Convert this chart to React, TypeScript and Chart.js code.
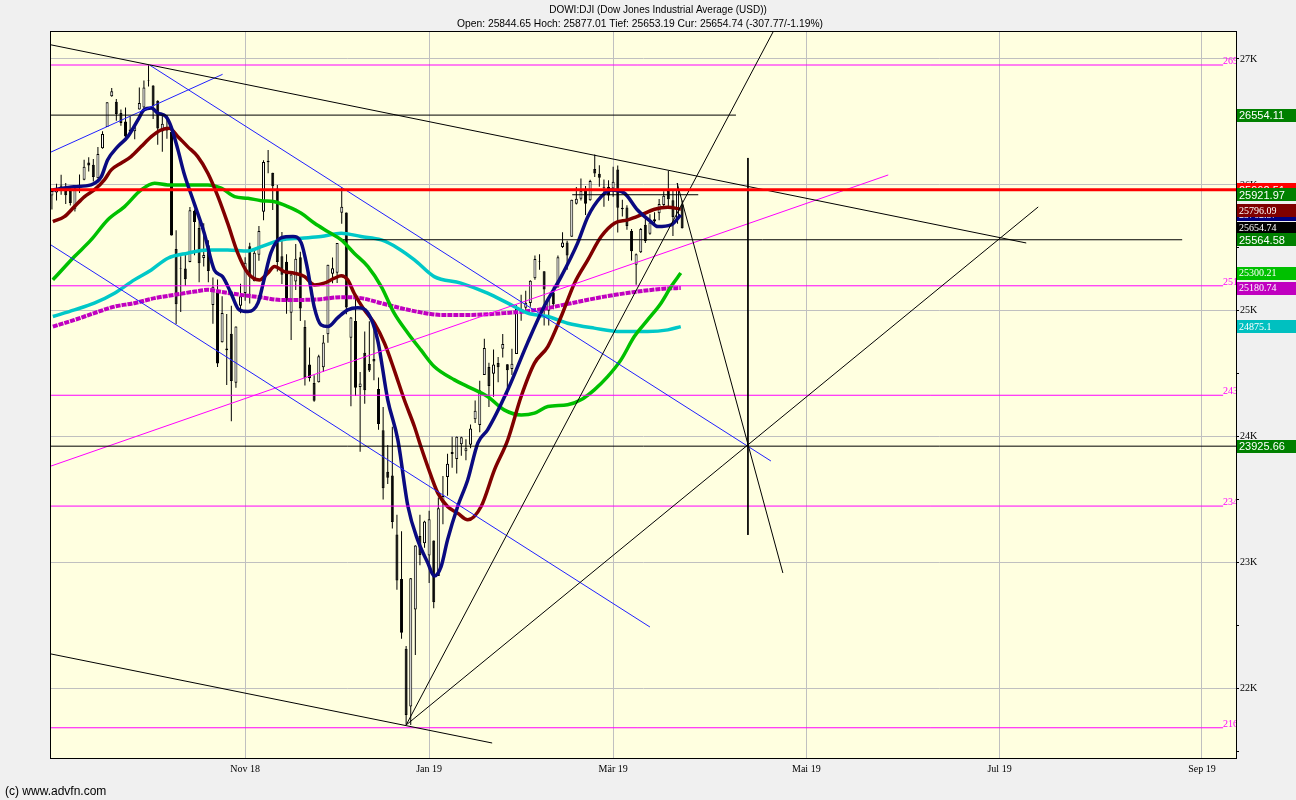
import React, { useEffect, useRef } from "react";
import { Chart, registerables } from "chart.js";

Chart.register(...registerables);

// ---- Candles: DJI daily, trading-day index 0 = 4 Sep 2018 ----
const candleOpen = [25916,25939,25985,25953,25951,25811,25986,26041,26178,26160,26053,26292,26460,26703,26661,26570,26504,26425,26427,26598,26614,26833,26789,26669,26424,26462,26422,25491,25337,25337,25387,25795,25658,25419,25520,25047,25163,24750,24701,24818,24429,25041,25142,25513,25236,25445,25787,26180,26097,25971,25433,25389,24986,25233,25426,24872,24575,24427,24434,24552,24815,25295,25303,25779,25780,24786,24919,24395,24667,24579,24617,24380,24052,23722,23693,23225,22872,22318,21858,22629,23213,23154,23058,23177,22894,23474,23680,23864,23823,23940,23885,23937,24139,24093,24491,24554,24500,24586,24700,24577,24539,24658,25017,25025,25062,25259,25394,25314,25000,25146,25186,25508,25542,25588,25850,25891,25954,25879,26126,26088,25978,25985,25972,26123,25819,25820,25634,25367,25465,25683,25613,25728,25775,25841,25952,25879,25735,25845];
const candleHigh = [25973,26010,26081,26015,25976,25998,26082,26199,26220,26205,26300,26427,26657,26769,26682,26598,26614,26545,26479,26773,26828,26952,26791,26672,26566,26556,26423,25640,25433,25458,25824,25804,25709,25695,25560,25264,25249,25117,24975,25040,24875,25215,25425,25540,25492,25673,26195,26277,26097,26000,25627,25450,25300,25530,25470,24925,24710,24488,24651,24808,25367,25424,25538,25980,25780,24951,25134,24514,24837,24918,24861,24471,24237,23936,24080,23382,23250,22339,22879,23139,23382,23333,23413,23177,23518,23688,23865,24000,24002,24000,23981,24097,24288,24446,24778,24589,24693,24634,24817,24577,24700,25044,25127,25159,25244,25439,25449,25314,25107,25194,25440,25625,25556,25883,25984,26051,25991,26040,26241,26156,26043,26037,26144,26155,25883,25838,25650,25456,25657,25744,25767,25782,25889,25950,26110,25962,26016,25877];
const candleLow = [25804,25877,25921,25849,25836,25789,25935,26036,26107,26028,26052,26287,26460,26700,26509,26469,26375,26409,26363,26598,26611,26782,26523,26319,26263,26366,25598,24896,24990,25200,25385,25441,25228,25352,25228,24897,24555,24748,24412,24123,24389,24981,25081,25059,25236,25397,25720,26093,25800,25313,25213,24977,24768,25165,24920,24408,24440,24278,24431,24515,24747,25220,25221,25691,24974,24242,24324,23881,24262,24515,24450,24057,23502,23625,23273,22786,22397,21713,21712,22267,22981,23119,22839,22639,22894,23305,23532,23755,23709,23850,23813,23909,24109,24036,24491,24237,24319,24434,24629,24331,24491,24658,24921,24985,25032,25247,25327,24884,24883,25012,25186,25500,25326,25588,25845,25876,25761,25874,26063,25986,25826,25874,25906,25622,25749,25644,25400,25208,25459,25539,25604,25671,25720,25816,25808,25595,25692,25653];
const candleClose = [25952,25975,25996,25917,25857,25971,25999,26145,26154,26062,26246,26405,26657,26743,26562,26492,26385,26440,26458,26651,26774,26828,26627,26447,26486,26431,25599,25053,25340,25250,25798,25706,25379,25444,25317,25191,24583,24984,24688,24443,24875,25116,25381,25270,25462,25635,26181,26191,25989,25387,25286,25081,25289,25413,25018,24466,24465,24286,24640,24748,25366,25339,25538,25826,25027,24947,24389,24423,24370,24527,24597,24101,23592,23675,23323,22860,22445,21792,22878,23138,23062,23327,23346,22686,23433,23531,23787,23879,24001,23996,23910,24066,24207,24370,24706,24404,24575,24553,24737,24528,24580,25014,24999,25064,25239,25411,25390,25169,25106,25053,25425,25543,25439,25883,25891,25954,25850,26031,26091,26057,25985,25916,26026,25819,25806,25673,25473,25450,25650,25554,25702,25709,25849,25914,25887,25745,25962,25655];

// ---- Moving averages (index, value) ----
const navyIdx = [0.2,4.8,8.5,10.7,12.1,14.3,16.5,18.7,20.0,21.6,23.0,24.8,25.9,27.4,28.7,30.9,33.1,35.3,37.1,38.9,40.7,42.6,44.8,46.1,47.6,49.8,52.4,54.2,55.6,57.0,58.5,60.0,62.1,64.3,66.5,68.7,70.8,73.0,75.2,77.4,79.5,81.7,83.1,84.6,86.0,88.2,90.4,92.6,94.7,99.1,103.4,107.0,110.7,114.3,116.5,119.4,121.5,124.4,127.3,130.2,131.7,134.6,136.7];
const navyVal = [25960,25986,26000,26063,26198,26304,26383,26516,26595,26611,26571,26542,26463,26278,26095,25857,25619,25325,25272,25143,25008,24994,25063,25246,25460,25579,25590,25540,25325,25034,24889,24875,24944,25008,25024,24984,24770,24294,23976,23447,23182,23000,22895,22970,23182,23447,23659,23952,24055,24373,24746,25034,25272,25540,25748,25907,25960,25936,25801,25709,25669,25682,25762];
const maroonIdx = [0.2,2.7,4.9,7.1,9.2,11.4,12.9,15.0,17.2,19.4,21.6,23.7,25.5,27.4,29.5,31.7,33.9,36.1,38.2,40.4,42.6,45.1,46.9,48.4,50.5,52.7,54.9,57.1,59.2,61.4,62.9,64.3,65.7,67.9,70.1,72.3,74.4,76.6,78.8,80.2,81.7,83.9,86.0,88.2,90.4,93.3,96.2,99.1,102.0,104.9,107.8,110.7,113.6,116.5,119.4,122.3,125.2,128.1,131.0,133.9,136.7];
const maroonVal = [25709,25748,25828,25907,25960,26040,26119,26172,26225,26304,26383,26436,26450,26383,26304,26225,26093,25907,25696,25458,25299,25246,25299,25352,25312,25299,25272,25206,25220,25259,25278,25246,25140,25008,24902,24743,24532,24294,24082,23923,23764,23553,23447,23394,23341,23447,23738,23976,24320,24585,24717,24955,25220,25405,25590,25696,25722,25762,25807,25823,25807];
const greenIdx = [0.2,4.9,8.5,12.1,15.8,19.4,22.3,25.2,29.5,33.9,36.8,39.7,42.6,45.5,48.4,51.3,54.2,57.1,60.0,62.9,65.7,68.7,71.6,74.4,77.4,80.2,83.1,87.5,90.4,94.7,98.3,102.0,104.9,107.8,112.1,115.0,117.9,120.8,123.7,126.6,129.5,132.4,134.6,136.7];
const greenVal = [25246,25431,25563,25722,25828,25960,26013,26000,26000,26000,25974,25907,25894,25875,25867,25828,25775,25696,25629,25563,25458,25352,25193,24982,24823,24690,24558,24452,24399,24320,24214,24174,24188,24240,24254,24294,24373,24478,24611,24796,24928,25061,25193,25300];
const cyanIdx = [0.2,4.9,9.2,13.6,17.9,21.6,25.2,29.5,33.9,38.2,42.6,45.5,49.8,54.2,58.5,62.9,67.2,71.6,75.2,78.8,83.1,88.9,94.7,99.1,103.4,107.8,112.1,117.9,123.7,129.5,133.9,136.7];
const cyanVal = [24955,25008,25061,25140,25246,25325,25418,25458,25484,25484,25476,25510,25563,25577,25590,25617,25590,25563,25498,25405,25272,25220,25140,25061,24982,24955,24902,24863,24836,24836,24849,24875];
const purpleIdx = [0.2,4.9,9.2,13.6,17.9,22.3,26.6,31.0,33.9,36.8,41.1,45.5,49.8,54.2,58.5,62.9,67.2,71.6,75.9,80.2,84.6,91.1,98.3,105.6,112.9,120.1,127.3,133.9,136.7];
const purpleVal = [24875,24928,24982,25034,25061,25101,25127,25153,25167,25151,25127,25107,25087,25087,25093,25109,25101,25061,25021,24988,24968,24968,24982,25008,25061,25113,25153,25178,25181];

// ---- Drawn lines: [x1, value1, x2, value2] ----
const blackTrends = [
  [-0.2, 27112, 211.8, 25539],
  [-0.2, 22276, 95.7, 21569],
  [77, 21712, 160, 27438],
  [77, 21712, 214.4, 25825],
  [151.3, 26214, 151.3, 23221],
  [135.9, 26015, 158.9, 22919],
];
const blueTrends = [
  [-0.2, 26261, 37.1, 26878],
  [21.3, 26950, 156.3, 23808],
  [-0.2, 25523, 130.0, 22490],
];
const magentaTrends = [[-0.2, 23768, 181.8, 26079]];
// horizontal black levels: [value, fromIdx, toIdx]
const blackLevels = [
  [26554.11, -0.2, 148.7],
  [25921.97, 113.1, 140.5],
  [25564.58, 63.3, 245.7],
  [23925.66, -0.2, 257.4],
];
const prevClose = 25962.51;
const magentaLevels = [26952, 25199, 24330, 23450, 21690];
const magentaLevelEnd = 254.6;

// ---- Axis ticks ----
const monthTickIdx = [42, 82, 122, 164, 206, 250];
const monthTickLabels = ["Nov 18", "Jan 19", "Mär 19", "Mai 19", "Jul 19", "Sep 19"];
const yTickValues = [21500, 22000, 22500, 23000, 23500, 24000, 24500, 25000, 25500, 26000, 26500, 27000];

// ---- Right-side price tags ----
const tagValues = [25962.51, 25921.97, 26554.11, 25762.57, 25796.09, 25654.74, 25564.58, 25300.21, 25180.74, 24875.1, 23925.66];
const tagColors = ["#FF0000", "#008000", "#008000", "#000080", "#800000", "#000000", "#008000", "#00C000", "#C000C0", "#00C0C0", "#008000"];
const tagSerif = [false, false, false, true, true, true, false, true, true, true, false];

const titleLine1 = "DOWI:DJI (Dow Jones Industrial Average (USD))";
const titleLine2 = "Open: 25844.65 Hoch: 25877.01 Tief: 25653.19 Cur: 25654.74 (-307.77/-1.19%)";
const footerText = "(c) www.advfn.com";

const SANS = '"Liberation Sans", Arial, sans-serif';
const SERIF = '"Liberation Serif", "Times New Roman", serif';

function seg(a: number[], color: string, width: number, order: number) {
  return {
    type: "line",
    data: [{ x: a[0], y: a[1] }, { x: a[2], y: a[3] }],
    borderColor: color,
    borderWidth: width,
    pointRadius: 0,
    tension: 0,
    order,
  };
}

function maLine(idx: number[], val: number[], color: string, width: number, order: number, dash?: number[]) {
  return {
    type: "line",
    data: idx.map((x, i) => ({ x, y: val[i] })),
    borderColor: color,
    borderWidth: width,
    borderDash: dash || [],
    pointRadius: 0,
    cubicInterpolationMode: "monotone",
    order,
  };
}

const decorPlugin = {
  id: "decor",
  beforeDraw(chart: any) {
    const { ctx, chartArea: a } = chart;
    ctx.save();
    ctx.fillStyle = "#F0F0F0";
    ctx.fillRect(0, 0, chart.width, chart.height);
    ctx.fillStyle = "#FFFFE0";
    ctx.fillRect(a.left, a.top, a.right - a.left, a.bottom - a.top);
    ctx.restore();
  },
  afterDraw(chart: any) {
    const { ctx, chartArea: a, scales } = chart;
    const ys = scales.y;
    const xs = scales.x;
    ctx.save();
    // frame
    ctx.strokeStyle = "#000";
    ctx.lineWidth = 1;
    ctx.strokeRect(Math.round(a.left) - 0.5, Math.round(a.top) - 0.5, Math.round(a.right - a.left) + 1, Math.round(a.bottom - a.top) + 1);

    // magenta level labels (clipped at plot edge)
    ctx.save();
    ctx.beginPath();
    ctx.rect(a.left, a.top, a.right - a.left, a.bottom - a.top);
    ctx.clip();
    ctx.font = "10px " + SERIF;
    ctx.fillStyle = "#FF00FF";
    ctx.textAlign = "left";
    ctx.textBaseline = "alphabetic";
    const lx = xs.getPixelForValue(magentaLevelEnd);
    magentaLevels.forEach((v) => {
      ctx.fillText(String(Math.round(v)), lx, ys.getPixelForValue(v) - 1);
    });
    ctx.restore();

    // price tags
    tagValues.forEach((v, i) => {
      const py = ys.getPixelForValue(v);
      ctx.fillStyle = tagColors[i];
      ctx.fillRect(a.right + 1, Math.round(py - 6.5), chart.width - a.right - 1, 13);
      ctx.fillStyle = "#FFFFFF";
      ctx.font = tagSerif[i] ? "10px " + SERIF : "11px " + SANS;
      ctx.textAlign = "left";
      ctx.textBaseline = "middle";
      ctx.fillText(String(v), a.right + 3, Math.round(py) + 0.5);
    });

    // title
    ctx.fillStyle = "#000";
    ctx.textAlign = "center";
    ctx.textBaseline = "middle";
    ctx.font = "10px " + SANS;
    ctx.fillText(titleLine1, 658, 10);
    ctx.font = "10.3px " + SANS;
    ctx.fillText(titleLine2, 640, 24);

    // footer
    ctx.textAlign = "left";
    ctx.font = "12px " + SANS;
    ctx.fillText(footerText, 5, 792);
    ctx.restore();
  },
};

export default function App() {
  const ref = useRef<HTMLCanvasElement>(null);

  useEffect(() => {
    const canvas = ref.current;
    if (!canvas) return;

    const n = candleClose.length;
    const wickData = [];
    const bodyData = [];
    const bodyColors = [];
    for (let i = 0; i < n; i++) {
      wickData.push({ x: i, y: [candleLow[i], candleHigh[i]] });
      bodyData.push({ x: i, y: [candleOpen[i], candleClose[i]] });
      bodyColors.push(candleClose[i] >= candleOpen[i] ? "#FFFFFF" : "#000000");
    }

    const datasets: any[] = [
      {
        type: "bar",
        data: wickData,
        backgroundColor: "#000000",
        borderWidth: 0,
        maxBarThickness: 1,
        grouped: false,
        order: 101,
      },
      {
        type: "bar",
        data: bodyData,
        backgroundColor: bodyColors,
        borderColor: "#000000",
        borderWidth: 1,
        borderSkipped: false,
        maxBarThickness: 3,
        grouped: false,
        order: 100,
      },
      maLine(purpleIdx, purpleVal, "#C000C0", 4, 60, [5, 1]),
      maLine(cyanIdx, cyanVal, "#00C8C8", 3.5, 59),
      maLine(greenIdx, greenVal, "#00C000", 3.5, 58),
      maLine(maroonIdx, maroonVal, "#800000", 3.5, 57),
      maLine(navyIdx, navyVal, "#0A0A80", 3.5, 56),
    ];
    magentaLevels.forEach((v) => datasets.push(seg([-0.2, v, magentaLevelEnd, v], "#FF00FF", 1, 30)));
    blueTrends.forEach((t) => datasets.push(seg(t, "#2020FF", 1, 25)));
    magentaTrends.forEach((t) => datasets.push(seg(t, "#FF00FF", 1, 25)));
    blackTrends.forEach((t) => datasets.push(seg(t, "#000000", 1, 20)));
    blackLevels.forEach((l) => datasets.push(seg([l[1], l[0], l[2], l[0]], "#000000", 1, 15)));
    datasets.push(seg([-0.2, prevClose, 257.4, prevClose], "#FF0000", 3, 1));

    const chart = new Chart(canvas, {
      type: "bar",
      data: { datasets },
      plugins: [decorPlugin],
      options: {
        responsive: false,
        animation: false,
        devicePixelRatio: 1,
        layout: { padding: { left: 51, top: 32, right: 0, bottom: 0 } },
        plugins: {
          legend: { display: false },
          tooltip: { enabled: false },
          title: { display: false },
        },
        scales: {
          x: {
            type: "linear",
            position: "bottom",
            min: -0.2,
            max: 257.4,
            offset: false,
            border: { display: false },
            grid: { color: "#C0C0C0", lineWidth: 1, drawTicks: false, offset: false },
            afterBuildTicks: (s: any) => {
              s.ticks = monthTickIdx.map((v) => ({ value: v }));
            },
            afterFit: (s: any) => {
              s.height = 42;
            },
            ticks: {
              autoSkip: false,
              maxRotation: 0,
              padding: 5,
              color: "#000",
              font: { family: SERIF, size: 10 },
              callback: (_v: any, i: number) => monthTickLabels[i],
            },
          },
          y: {
            type: "linear",
            position: "right",
            min: 21450,
            max: 27214,
            border: { display: false },
            grid: {
              color: (c: any) => (c.tick && c.tick.value % 1000 === 0 ? "#C0C0C0" : "rgba(0,0,0,0)"),
              tickColor: "#000",
              tickLength: 3,
              lineWidth: 1,
              offset: false,
            },
            afterBuildTicks: (s: any) => {
              s.ticks = yTickValues.map((v) => ({ value: v }));
            },
            afterFit: (s: any) => {
              s.width = 60;
            },
            ticks: {
              padding: 1,
              color: "#000",
              font: { family: SERIF, size: 10 },
              callback: (v: any) => (v % 1000 === 0 ? v / 1000 + "K" : ""),
            },
          },
        },
      } as any,
    } as any);

    return () => chart.destroy();
  }, []);

  return (
    <div style={{ position: "fixed", left: 0, top: 0, width: 1296, height: 800 }}>
      <canvas ref={ref} width={1296} height={800} style={{ display: "block", width: 1296, height: 800 }} />
    </div>
  );
}
